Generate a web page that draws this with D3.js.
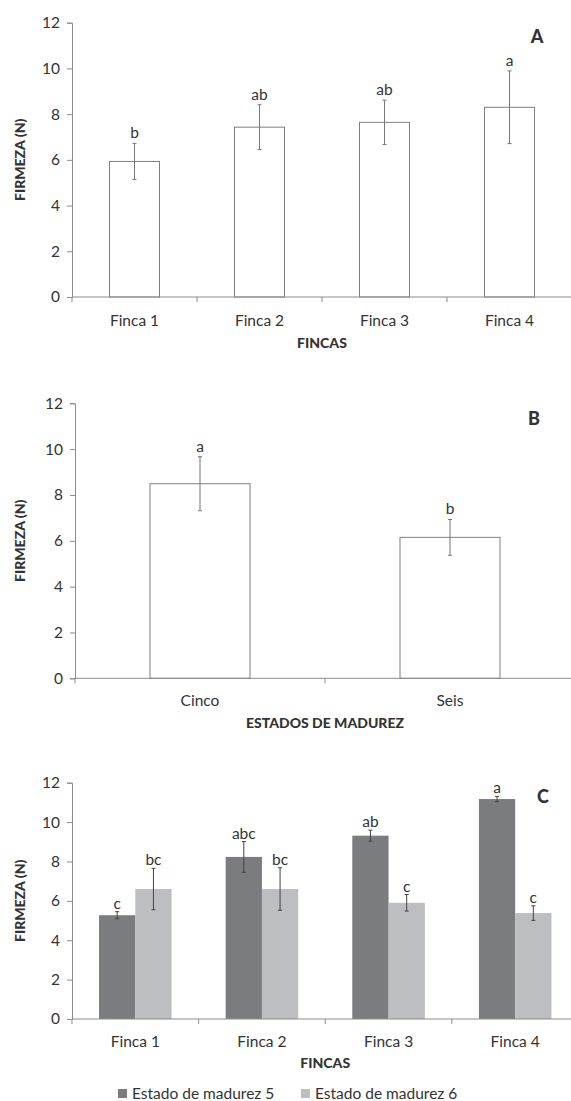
<!DOCTYPE html>
<html>
<head>
<meta charset="utf-8">
<script src="https://cdn.jsdelivr.net/npm/d3@7"></script>
<style>
  body { margin: 0; background: #fff; }
  text { font-family: Lato, "Open Sans", sans-serif; fill: #333; }
</style>
</head>
<body>
<div id="chart"></div>
<script>
// data
const fincas = ["Finca 1", "Finca 2", "Finca 3", "Finca 4"];
const firmezaA = [5.93, 7.43, 7.64, 8.30];
const errA = [0.79, 0.98, 0.97, 1.59];
const letrasA = ["b", "ab", "ab", "a"];

const estados = ["Cinco", "Seis"];
const firmezaB = [8.49, 6.15];
const errB = [1.18, 0.78];
const letrasB = ["a", "b"];

const series = ["Estado de madurez 5", "Estado de madurez 6"];
const firmezaC5 = [5.27, 8.23, 9.31, 11.17];
const errC5 = [0.18, 0.78, 0.28, 0.13];
const letrasC5 = ["c", "abc", "ab", "a"];
const firmezaC6 = [6.60, 6.60, 5.90, 5.38];
const errC6 = [1.05, 1.08, 0.42, 0.37];
const letrasC6 = ["bc", "bc", "c", "c"];

const yTicks = [0, 2, 4, 6, 8, 10, 12];

const W = 571, H = 1101;
const axisColor = "#8c8c8c";
const fs = "15.5px";

let svg = d3.select("#chart").append("svg")
    .attr("width", W)
    .attr("height", H);

function drawAxes(g, x, y, cats, xTitle, catY, titleY) {
    let yAxis = d3.axisLeft(y).tickValues(yTicks).tickSize(5).tickPadding(7);
    let ya = g.append("g").attr("transform", "translate(" + x.range()[0] + ",0)").call(yAxis);
    ya.select(".domain").attr("stroke", axisColor);
    ya.selectAll(".tick line").attr("stroke", axisColor);
    ya.selectAll(".tick text").style("font-size", fs).attr("fill", "#333")
        .style("font-family", "Lato, sans-serif");

    let y0 = y(0);
    g.append("line")
        .attr("x1", x.range()[0]).attr("x2", x.range()[1])
        .attr("y1", y0).attr("y2", y0)
        .attr("stroke", axisColor);

    // boundary ticks
    let bounds = cats.map(c => x(c)).concat([x.range()[1]]);
    g.selectAll(".xb").data(bounds).enter().append("line")
        .attr("x1", d => d).attr("x2", d => d)
        .attr("y1", y0).attr("y2", y0 + 5)
        .attr("stroke", axisColor);

    g.selectAll(".cat").data(cats).enter().append("text")
        .attr("x", d => x(d) + x.bandwidth() / 2)
        .attr("y", catY + 5.5)
        .attr("text-anchor", "middle")
        .style("font-size", fs)
        .text(d => d);

    g.append("text")
        .attr("x", (x.range()[0] + x.range()[1]) / 2)
        .attr("y", titleY + 5)
        .attr("text-anchor", "middle")
        .style("font-size", "14px")
        .style("font-weight", "900")
        .text(xTitle);

    let yc = (y(0) + y(12)) / 2;
    g.append("text")
        .attr("transform", "translate(25," + yc + ") rotate(-90)")
        .attr("text-anchor", "middle")
        .style("font-size", "14px")
        .style("font-weight", "900")
        .text("FIRMEZA (N)");
}

function drawErr(g, cx, y, v, e, color) {
    g.append("line").attr("x1", cx).attr("x2", cx)
        .attr("y1", y(v + e)).attr("y2", y(v - e)).attr("stroke", color);
    [v + e, v - e].forEach(t => {
        g.append("line").attr("x1", cx - 2).attr("x2", cx + 2)
            .attr("y1", y(t)).attr("y2", y(t)).attr("stroke", color);
    });
}

function drawLetter(g, cx, yy, txt) {
    g.append("text").attr("x", cx).attr("y", yy)
        .attr("text-anchor", "middle").style("font-size", fs).text(txt);
}

function simplePanel(cats, vals, errs, letras, xr, yr, xTitle, catY, titleY, tag, tagPos) {
    let g = svg.append("g");
    let x = d3.scaleBand().domain(cats).range(xr).paddingInner(0).paddingOuter(0);
    let y = d3.scaleLinear().domain([0, 12]).range(yr);
    let bw = x.bandwidth() * 0.4;

    g.selectAll(".bar").data(cats).enter().append("rect")
        .attr("x", d => x(d) + (x.bandwidth() - bw) / 2)
        .attr("y", (d, i) => y(vals[i]))
        .attr("width", bw)
        .attr("height", (d, i) => y(0) - y(vals[i]))
        .attr("fill", "#fff")
        .attr("stroke", "#7f7f7f");

    drawAxes(g, x, y, cats, xTitle, catY, titleY);

    cats.forEach((c, i) => {
        let cx = x(c) + x.bandwidth() / 2;
        drawErr(g, cx, y, vals[i], errs[i], "#777");
        drawLetter(g, cx, y(vals[i] + errs[i]) - 5, letras[i]);
    });

    g.append("text").attr("x", tagPos[0]).attr("y", tagPos[1] + 6.5)
        .attr("text-anchor", "middle")
        .style("font-size", "18px").style("font-weight", "900")
        .text(tag);
}

simplePanel(fincas, firmezaA, errA, letrasA, [72, 572], [297, 22.7], "FINCAS", 320, 343, "A", [537, 36]);
simplePanel(estados, firmezaB, errB, letrasB, [75, 575], [678.3, 403.3], "ESTADOS DE MADUREZ", 700.7, 723, "B", [534, 418]);

// panel C, grouped bars
let gC = svg.append("g");
let xC = d3.scaleBand().domain(fincas).range([72, 578.5]);
let yC = d3.scaleLinear().domain([0, 12]).range([1019, 782.7]);
let groupW = xC.bandwidth() * 0.573;
let xSub = d3.scaleBand().domain(series).range([0, groupW]);
let colors = ["#7b7c80", "#bdbec2"];
let valsC = [firmezaC5, firmezaC6];
let errsC = [errC5, errC6];
let letrasC = [letrasC5, letrasC6];

series.forEach((s, si) => {
    gC.selectAll(".barC" + si).data(fincas).enter().append("rect")
        .attr("x", d => xC(d) + (xC.bandwidth() - groupW) / 2 + xSub(s))
        .attr("y", (d, i) => yC(valsC[si][i]))
        .attr("width", xSub.bandwidth())
        .attr("height", (d, i) => yC(0) - yC(valsC[si][i]))
        .attr("fill", colors[si]);
});

drawAxes(gC, xC, yC, fincas, "FINCAS", 1041, 1063.3);

series.forEach((s, si) => {
    fincas.forEach((f, i) => {
        let cx = xC(f) + (xC.bandwidth() - groupW) / 2 + xSub(s) + xSub.bandwidth() / 2;
        drawErr(gC, cx, yC, valsC[si][i], errsC[si][i], "#444");
        drawLetter(gC, cx, yC(valsC[si][i] + errsC[si][i]) - 3, letrasC[si][i]);
    });
});

gC.append("text").attr("x", 543).attr("y", 796 + 6.5)
    .attr("text-anchor", "middle")
    .style("font-size", "18px").style("font-weight", "900")
    .text("C");

// legend
let legX = [118, 301];
series.forEach((s, si) => {
    gC.append("rect").attr("x", legX[si]).attr("y", 1089).attr("width", 9).attr("height", 9)
        .attr("fill", colors[si]);
    gC.append("text").attr("x", legX[si] + 14).attr("y", 1098.5)
        .style("font-size", fs).text(s);
});
</script>
</body>
</html>
